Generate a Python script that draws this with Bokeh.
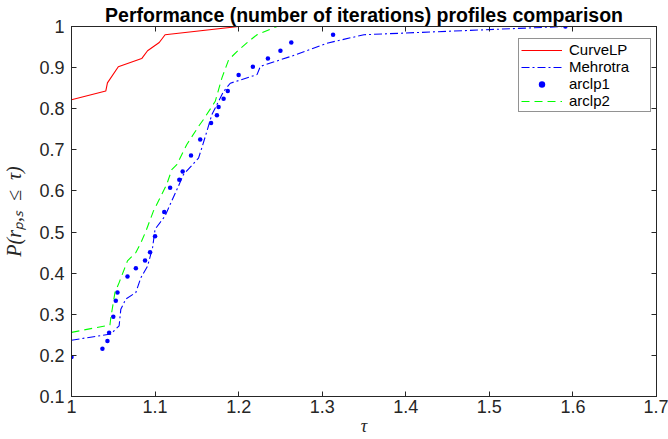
from bokeh.plotting import figure
from bokeh.models import (Range1d, FixedTicker, LinearAxis, Legend, LegendItem,
                          CustomJSTickFormatter)
from bokeh.embed import file_html
from bokeh.resources import INLINE

# ---------------- data ----------------
curvelp_tau = [1.0, 1.041, 1.043, 1.056, 1.084, 1.091, 1.105, 1.112, 1.2, 1.44]
curvelp_p = [0.822, 0.843, 0.863, 0.902, 0.922, 0.941, 0.961, 0.980, 1.0, 1.0]

mehrotra_tau = [1.0, 1.047, 1.057, 1.059, 1.065, 1.077, 1.083, 1.091, 1.097, 1.100,
                1.112, 1.118, 1.128, 1.134, 1.152, 1.156, 1.162, 1.168, 1.175, 1.182,
                1.190, 1.222, 1.226, 1.268, 1.307, 1.350, 1.590, 1.629]
mehrotra_p = [0.237, 0.252, 0.272, 0.312, 0.337, 0.353, 0.389, 0.417, 0.462, 0.507,
              0.539, 0.567, 0.612, 0.640, 0.680, 0.705, 0.745, 0.786, 0.814, 0.842,
              0.862, 0.883, 0.903, 0.931, 0.960, 0.980, 1.0, 1.0]

arclp1_tau = [1.0, 1.037, 1.043, 1.045, 1.050, 1.053, 1.055, 1.067, 1.077, 1.088,
              1.094, 1.100, 1.111, 1.118, 1.129, 1.133, 1.143, 1.154, 1.167, 1.174,
              1.176, 1.182, 1.187, 1.200, 1.217, 1.235, 1.250, 1.263, 1.313, 1.591]
arclp1_p = [0.196, 0.216, 0.235, 0.255, 0.294, 0.333, 0.353, 0.392, 0.412, 0.431,
            0.451, 0.490, 0.549, 0.608, 0.627, 0.647, 0.686, 0.725, 0.765, 0.784,
            0.804, 0.824, 0.843, 0.882, 0.902, 0.922, 0.941, 0.961, 0.980, 1.0]

arclp2_tau = [1.0, 1.046, 1.047, 1.052, 1.057, 1.067, 1.077, 1.083, 1.089, 1.098,
              1.114, 1.120, 1.126, 1.138, 1.152, 1.158, 1.172, 1.180, 1.188, 1.200,
              1.212, 1.222, 1.246, 1.445]
arclp2_p = [0.256, 0.274, 0.291, 0.353, 0.377, 0.430, 0.450, 0.474, 0.502, 0.551,
            0.616, 0.652, 0.664, 0.713, 0.757, 0.774, 0.818, 0.875, 0.919, 0.943,
            0.964, 0.980, 1.0, 1.0]

x_ticks = [1.0, 1.1, 1.2, 1.3, 1.4, 1.5, 1.6, 1.7]
x_tick_labels = ["1", "1.1", "1.2", "1.3", "1.4", "1.5", "1.6", "1.7"]
y_ticks = [0.1, 0.2, 0.3, 0.4, 0.5, 0.6, 0.7, 0.8, 0.9, 1.0]
y_tick_labels = ["0.1", "0.2", "0.3", "0.4", "0.5", "0.6", "0.7", "0.8", "0.9", "1"]

title_text = "Performance (number of iterations) profiles comparison"
x_label = "τ"
y_label = "P(rₚ,ₛ\u2002≤\u2002τ)"
series_names = ["CurveLP", "Mehrotra", "arclp1", "arclp2"]

# ---------------- figure ----------------
AX = "#262626"
SANS = "Liberation Sans"
SERIF = "Liberation Serif"

x_lo, x_hi = x_ticks[0], x_ticks[-1]
y_lo, y_hi = y_ticks[0], y_ticks[-1]

p = figure(width=668, height=439, x_range=Range1d(x_lo, x_hi), y_range=Range1d(y_lo, y_hi),
           output_backend="svg", toolbar_location=None, title=title_text,
           min_border_left=71, min_border_right=12, min_border_top=25, min_border_bottom=43,
           background_fill_color="white", border_fill_color="white")
p.outline_line_color = AX
p.grid.visible = False

p.title.text_font = SANS
p.title.text_font_style = "bold"
p.title.text_font_size = "19.5px"
p.title.text_color = "black"
p.title.align = "center"
p.title.standoff = 2
p.title.offset = 0

def style_axis(ax, ticks, labels=None):
    ax.ticker = FixedTicker(ticks=ticks)
    ax.axis_line_color = AX
    ax.axis_line_width = 1
    ax.major_tick_line_color = AX
    ax.major_tick_in = 5
    ax.major_tick_out = 0
    ax.minor_tick_line_color = None
    if labels is not None:
        ax.major_label_overrides = dict(zip(ticks, labels))
        ax.major_label_text_font = SANS
        ax.major_label_text_font_size = "18px"
        ax.major_label_text_color = AX
        ax.axis_label_text_font = SERIF
        ax.axis_label_text_font_style = "italic"
        ax.axis_label_text_color = AX
    else:
        ax.formatter = CustomJSTickFormatter(code="return ''")
        ax.major_label_text_font_size = "0px"
        ax.major_label_standoff = 0

xa = p.xaxis[0]
style_axis(xa, x_ticks, x_tick_labels)
xa.major_label_standoff = 3
xa.axis_label = x_label
xa.axis_label_text_font_size = "18px"
xa.axis_label_standoff = 0

ya = p.yaxis[0]
style_axis(ya, y_ticks, y_tick_labels)
ya.major_label_standoff = 7
ya.axis_label = y_label
ya.axis_label_text_font_size = "20px"
ya.axis_label_standoff = 11

top_ax = LinearAxis()
style_axis(top_ax, x_ticks)
p.add_layout(top_ax, "above")
right_ax = LinearAxis()
style_axis(right_ax, y_ticks)
p.add_layout(right_ax, "right")

# ---------------- series ----------------
r1 = p.line(curvelp_tau, curvelp_p, line_color="#ff0000", line_width=1.1)
r2 = p.line(mehrotra_tau, mehrotra_p, line_color="#0000ff", line_width=1.1,
            line_dash="8 3 2 3")
r3 = p.scatter(arclp1_tau, arclp1_p, marker="circle", size=4.5,
               fill_color="#0000ff", line_color="#0000ff", line_width=0)
r4 = p.line(arclp2_tau, arclp2_p, line_color="#00ff00", line_width=1.1,
            line_dash="8 5")

legend = Legend(items=[LegendItem(label=n, renderers=[r]) for n, r in
                       zip(series_names, [r1, r2, r3, r4])],
                location=(447, 284), margin=0, padding=2, spacing=-2,
                glyph_width=41, glyph_height=16, label_height=16,
                label_standoff=7, label_width=79,
                label_text_font=SANS, label_text_font_size="15px",
                label_text_color="black",
                border_line_color=AX, border_line_width=1,
                background_fill_color="white", background_fill_alpha=1)
p.add_layout(legend)

open("out.html", "w").write(file_html(p, INLINE))
